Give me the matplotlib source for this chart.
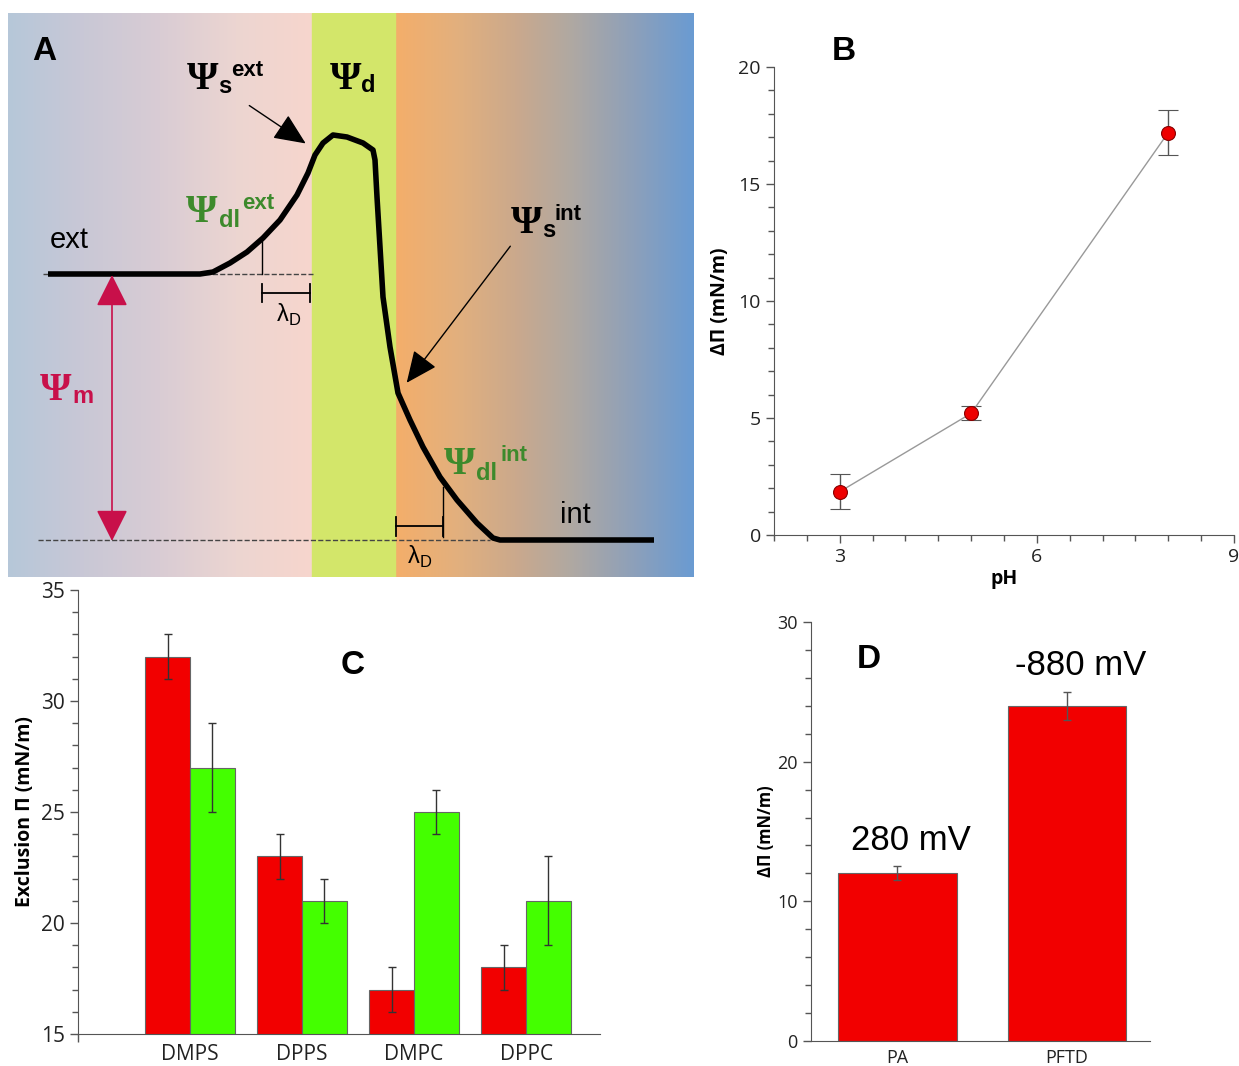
import numpy as np
import matplotlib.pyplot as plt
from matplotlib.colors import LinearSegmentedColormap

# ---- data ----
# panel A: schematic potential profile (diagram units = pixels)
profile_x = [48, 200, 213, 230, 247, 263, 280, 297, 308, 315, 323, 333, 347, 363, 373,
             375, 377, 380, 383, 390, 398, 410, 423, 440, 457, 477, 493, 500, 654]
profile_y = [274, 274, 272, 263, 252, 238, 220, 195, 173, 155, 143, 135, 137, 143, 150,
             160, 197, 247, 297, 347, 393, 420, 447, 477, 500, 523, 538, 540, 540]

# panel B
ph = [3, 5, 8]
dpi_ph = [1.85, 5.2, 17.2]
dpi_ph_err = [0.75, 0.3, 0.95]

# panel C
lipids = ['DMPS', 'DPPS', 'DMPC', 'DPPC']
excl_red = [32, 23, 17, 18]
excl_red_err = [1, 1, 1, 1]
excl_green = [27, 21, 25, 21]
excl_green_err = [2, 1, 1, 2]

# panel D
films = ['PA', 'PFTD']
dpi_film = [12, 24]
dpi_film_err = [0.5, 1.0]
film_pot = ['280 mV', '-880 mV']

W, H = 1239, 1066
fig = plt.figure(figsize=(W / 100, H / 100), dpi=100)
plt.rcParams['font.family'] = ['Open Sans', 'DejaVu Sans']
plt.rcParams['mathtext.fontset'] = 'custom'
plt.rcParams['mathtext.rm'] = 'Liberation Sans'


def box(l, t, r, b):
    return [l / W, (H - b) / H, (r - l) / W, (b - t) / H]


def psi(a, x, y, sub, sx, sy, sup=None, ux=None, uy=None, color='k'):
    # big serif Psi with bold sans sub/superscripts, positions = left/baseline
    a.text(x, y, 'Ψ', fontsize=29, fontweight='bold', family='Liberation Serif', color=color, va='baseline')
    a.text(sx, sy, sub, fontsize=17, fontweight='bold', family='Liberation Sans', color=color, va='baseline')
    if sup:
        a.text(ux, uy, sup, fontsize=16, fontweight='bold', family='Liberation Sans', color=color, va='baseline')


# ================= A =================
ax = fig.add_axes(box(8, 13, 694, 577))
ax.set_xlim(8, 694)
ax.set_ylim(577, 13)
ax.axis('off')
left_cm = LinearSegmentedColormap.from_list('l', ['#b6c7d9', '#c9c8d6', '#d9ccd4', '#ecd5d1', '#f7d6cd'])
right_cm = LinearSegmentedColormap.from_list('r', ['#f4ae6a', '#e3b07d', '#cba98c', '#aea8a3', '#8da0ba', '#6a9bd2'])
grad = np.linspace(0, 1, 256)[None, :]
ax.imshow(grad, cmap=left_cm, extent=(8, 312, 577, 13), aspect='auto')
ax.imshow(grad, cmap=right_cm, extent=(395, 694, 577, 13), aspect='auto')
ax.axvspan(312, 395, color='#d3e66a', zorder=0.5)

ax.plot([43, 313], [274, 274], ls='--', color='#444444', lw=1)
ax.plot([38, 490], [540, 540], ls='--', color='#444444', lw=1)
ax.plot(profile_x, profile_y, color='k', lw=4, solid_capstyle='butt', solid_joinstyle='round')

# lambda_D markers
ax.plot([262, 262], [239, 274], color='k', lw=1)
ax.plot([262, 310], [293, 293], color='k', lw=1.3)
ax.plot([262, 262], [284, 302], color='k', lw=1.3)
ax.plot([310, 310], [284, 302], color='k', lw=1.3)
ax.text(289, 315, r'$\mathrm{λ}_\mathrm{D}$', fontsize=17, ha='center', va='center')
ax.plot([443, 443], [487, 537], color='k', lw=1)
ax.plot([396, 443], [526, 526], color='k', lw=1.3)
ax.plot([396, 396], [517, 536], color='k', lw=1.3)
ax.plot([443, 443], [517, 536], color='k', lw=1.3)
ax.text(420, 557, r'$\mathrm{λ}_\mathrm{D}$', fontsize=17, ha='center', va='center')

ax.annotate('', xy=(308, 145), xytext=(247, 104),
            arrowprops=dict(arrowstyle='-|>,head_length=0.9,head_width=0.4', color='k', lw=1, mutation_scale=22))
ax.annotate('', xy=(405, 385), xytext=(512, 244),
            arrowprops=dict(arrowstyle='-|>,head_length=0.9,head_width=0.4', color='k', lw=1, mutation_scale=22))
ax.annotate('', xy=(112, 541), xytext=(112, 275),
            arrowprops=dict(arrowstyle='<|-|>,head_length=0.9,head_width=0.45', color='#c8104a', lw=1.2,
                            mutation_scale=22, shrinkA=0, shrinkB=0))

ax.text(32, 52, 'A', fontsize=24, fontweight='bold', family='Liberation Sans', va='center')
psi(ax, 187, 89, 's', 218, 93, 'ext', 231, 76)
psi(ax, 330, 89, 'd', 361, 92)
psi(ax, 186, 222, 'dl', 219, 227, 'ext', 242, 209, color='#3d8a2c')
psi(ax, 511, 233, 's', 542, 237, 'int', 555, 220)
psi(ax, 444, 474, 'dl', 476, 480, 'int', 500, 461, color='#3d8a2c')
psi(ax, 40, 400, 'm', 72, 403, color='#c8104a')
ax.text(50, 240, 'ext', fontsize=21, family='Liberation Sans', va='center')
ax.text(560, 515, 'int', fontsize=21, family='Liberation Sans', va='center')

spine_col = '#555555'
red = '#f20000'
green = '#44ff00'


def style(a, size=13):
    for s in ['top', 'right']:
        a.spines[s].set_visible(False)
    for s in ['left', 'bottom']:
        a.spines[s].set_color(spine_col)
    a.tick_params(colors=spine_col, labelcolor='#222222', labelsize=size, length=6, width=1)
    a.tick_params(which='minor', length=4, width=1, colors=spine_col)


# ================= B =================
axb = fig.add_axes(box(774, 67, 1234, 535))
style(axb, 14)
axb.errorbar(ph, dpi_ph, yerr=dpi_ph_err, fmt='-o', color='#999999', lw=1, ecolor='#555555', elinewidth=1,
             capsize=7, mfc='#ee0000', mec='#880000', ms=10, mew=0.8)
axb.set_xlim(2, 9)
axb.set_ylim(0, 20)
axb.set_xticks([3, 6, 9])
axb.set_xticks(np.arange(2, 9.01, 0.5), minor=True)
axb.set_yticks([0, 5, 10, 15, 20])
axb.set_yticks(np.arange(0, 21, 1), minor=True)
axb.set_xlabel('pH', fontsize=14, fontweight='bold', labelpad=2)
axb.set_ylabel('ΔΠ (mN/m)', fontsize=14, fontweight='bold', labelpad=6)
fig.text(832 / W, (H - 52) / H, 'B', fontsize=24, fontweight='bold', family='Liberation Sans', va='center')

# ================= C =================
axc = fig.add_axes(box(78, 590, 600, 1034))
style(axc, 15)
pos = np.arange(1, len(lipids) + 1)
bw = 0.4
axc.bar(pos - bw / 2, excl_red, bw, color=red, edgecolor='#666666', lw=0.8,
        yerr=excl_red_err, capsize=3, error_kw=dict(ecolor='#333333', elinewidth=1))
axc.bar(pos + bw / 2, excl_green, bw, color=green, edgecolor='#666666', lw=0.8,
        yerr=excl_green_err, capsize=3, error_kw=dict(ecolor='#333333', elinewidth=1))
axc.set_xlim(0, 4.66)
axc.set_ylim(15, 35)
axc.set_xticks(pos)
axc.set_xticklabels(lipids)
axc.tick_params(axis='x', length=0, labelsize=15, pad=7)
axc.set_xticks([0], minor=True)
axc.tick_params(axis='x', which='minor', length=6)
axc.set_yticks([15, 20, 25, 30, 35])
axc.set_yticks(np.arange(15, 36, 1), minor=True)
axc.set_ylabel('Exclusion Π (mN/m)', fontsize=14, fontweight='bold', labelpad=4)
axc.text(2.45, 31.6, 'C', fontsize=24, fontweight='bold', family='Liberation Sans', ha='center', va='center')

# ================= D =================
axd = fig.add_axes(box(811, 622, 1150, 1041))
style(axd)
xd = np.arange(len(films))
axd.bar(xd, dpi_film, 0.7, color=red, edgecolor='#666666', lw=0.8,
        yerr=dpi_film_err, capsize=3, error_kw=dict(ecolor='#555555', elinewidth=1))
for x, v, e, t in zip(xd, dpi_film, dpi_film_err, film_pot):
    axd.text(x + 0.08, v + e + 0.7, t, fontsize=25, family='Liberation Sans', ha='center', va='bottom')
axd.set_xlim(-0.51, 1.49)
axd.set_ylim(0, 30)
axd.set_xticks(xd)
axd.set_xticklabels(films)
axd.tick_params(axis='x', length=0, labelsize=13, pad=6)
axd.set_yticks([0, 10, 20, 30])
axd.set_yticks(np.arange(0, 31, 2), minor=True)
axd.set_ylabel('ΔΠ (mN/m)', fontsize=12, fontweight='bold', labelpad=2)
axd.text(-0.17, 27.3, 'D', fontsize=24, fontweight='bold', family='Liberation Sans', ha='center', va='center')

fig.savefig('out.png', dpi=100)
